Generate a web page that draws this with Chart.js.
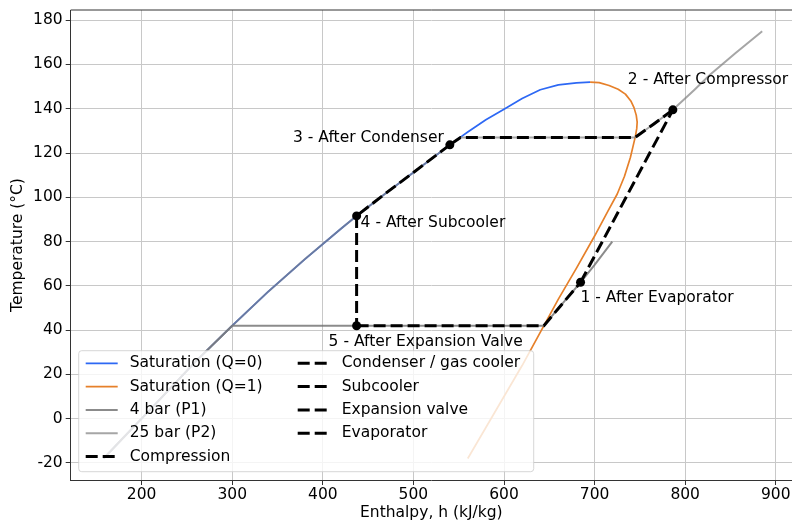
<!DOCTYPE html>
<html>
<head>
<meta charset="utf-8">
<script src="https://cdn.jsdelivr.net/npm/chart.js@4.4.1/dist/chart.umd.min.js"></script>
<style>
  html, body { margin: 0; padding: 0; background: #fff; overflow: hidden; }
  #wrap { width: 792px; height: 524px; }
</style>
</head>
<body>
<div id="wrap"><canvas id="chart" width="792" height="524"></canvas></div>
<script>
// axis ticks
const xTicks = [200, 300, 400, 500, 600, 700, 800, 900];
const yTicks = [-20, 0, 20, 40, 60, 80, 100, 120, 140, 160, 180];

// saturation dome
const liqH = [158, 180, 200, 230, 260, 300, 340, 380, 420, 437.3, 470, 500, 540.2, 552, 560, 580, 600, 620, 640, 660, 680, 695];
const liqT = [-18, -8.5, 0, 13, 26, 42, 57.5, 72, 85.8, 91.6, 102, 111.2, 123.7, 127.2, 129.5, 135, 139.8, 144.6, 148.6, 150.8, 151.7, 152];
const vapH = [560, 580, 600, 620, 640, 660, 680, 700, 715, 725, 733, 739.5, 743, 745, 746.5, 747, 746, 743.5, 740, 734, 726, 716, 705, 695];
const vapT = [-18, -4, 10, 24, 39, 54, 68, 82.5, 94, 101.5, 109.5, 118, 124, 127.5, 131, 134, 137, 140.5, 143.5, 146.6, 148.8, 150.5, 151.8, 152];

// isobars
const p1H = [158, 180, 200, 230, 260, 300, 644, 660, 684.5, 700, 719.5];
const p1T = [-18, -8.5, 0, 13, 26, 42, 42, 49.8, 61.6, 69.5, 80];
const p2H = [158, 180, 200, 230, 260, 300, 340, 380, 420, 437.3, 470, 500, 540.2, 552, 744.5, 765, 786.4, 810, 828, 855, 885];
const p2T = [-18, -8.5, 0, 13, 26, 42, 57.5, 72, 85.8, 91.6, 102, 111.2, 123.7, 127, 127, 133, 139.5, 148.5, 155.6, 165, 175];

// cycle processes
const compH = [684.5, 786.4];
const compT = [61.6, 139.5];
const condH = [786.4, 765, 744.5, 552, 540.2];
const condT = [139.5, 133, 127, 127, 123.7];
const subH = [540.2, 500, 470, 437.3];
const subT = [123.7, 111.2, 102, 91.6];
const expH = [437.3, 437.3];
const expT = [91.6, 42];
const evapH = [437.3, 644, 660, 684.5];
const evapT = [42, 42, 49.8, 61.6];

// state points
const stateH = [684.5, 786.4, 540.2, 437.3, 437.3];
const stateT = [61.6, 139.5, 123.7, 91.6, 42];
const stateNames = ['1 - After Evaporator', '2 - After Compressor', '3 - After Condenser', '4 - After Subcooler', '5 - After Expansion Valve'];

const FONT = 'DejaVu Sans';
const FS = 15.5;
const pts = (hs, ts) => hs.map((h, i) => ({ x: h, y: ts[i] }));

// label placement relative to each state point (px)
const labelPos = [
  { dx: 0, dy: 16, align: 'left' },
  { dx: -45, dy: -30, align: 'left' },
  { dx: -6, dy: -7, align: 'right' },
  { dx: 4, dy: 7, align: 'left' },
  { dx: -28, dy: 16, align: 'left' }
];

const solid = (label, hs, ts, color, width, order) => ({
  label, data: pts(hs, ts), showLine: true, pointRadius: 0,
  borderColor: color, backgroundColor: color, borderWidth: width,
  borderJoinStyle: 'round', order
});
const dashed = (label, hs, ts) => ({
  label, data: pts(hs, ts), showLine: true, pointRadius: 0,
  borderColor: '#000', backgroundColor: '#000', borderWidth: 3,
  borderDash: [12, 5], order: 3
});

const datasets = [
  solid('Saturation (Q=0)', liqH, liqT, '#2d68f4', 1.7, 10),
  solid('Saturation (Q=1)', vapH, vapT, '#e6802a', 1.7, 9),
  solid('4 bar (P1)', p1H, p1T, 'rgba(110,110,110,0.8)', 2, 8),
  solid('25 bar (P2)', p2H, p2T, 'rgba(128,128,128,0.7)', 2, 7),
  dashed('Compression', compH, compT),
  dashed('Condenser / gas cooler', condH, condT),
  dashed('Subcooler', subH, subT),
  dashed('Expansion valve', expH, expT),
  dashed('Evaporator', evapH, evapT),
  {
    label: '', data: pts(stateH, stateT), pointRadius: 4.5,
    backgroundColor: '#000', borderWidth: 0, order: 0
  }
];

const overlay = {
  id: 'overlay',
  afterDatasetsDraw(chart) {
    const { ctx, chartArea: a, scales: { x, y } } = chart;
    ctx.save();
    // top spine (the right one falls outside the picture)
    ctx.strokeStyle = '#333';
    ctx.lineWidth = 1;
    ctx.beginPath();
    ctx.moveTo(a.left, a.top);
    ctx.lineTo(a.right, a.top);
    ctx.stroke();

    // state annotations
    ctx.font = `${FS}px "${FONT}"`;
    ctx.fillStyle = '#000';
    ctx.textBaseline = 'middle';
    stateNames.forEach((name, i) => {
      const p = labelPos[i];
      ctx.textAlign = p.align;
      ctx.fillText(name, x.getPixelForValue(stateH[i]) + p.dx, y.getPixelForValue(stateT[i]) + p.dy);
    });

    // legend
    const lx = a.left + 8, ly = a.bottom - 129.3, lw = 455, lh = 121;
    ctx.beginPath();
    ctx.roundRect(lx, ly, lw, lh, 3);
    ctx.fillStyle = 'rgba(255,255,255,0.8)';
    ctx.fill();
    ctx.strokeStyle = 'rgba(204,204,204,0.8)';
    ctx.stroke();
    ctx.textAlign = 'left';
    chart.data.datasets.filter(d => d.label).forEach((d, i) => {
      const col = Math.floor(i / 5), row = i % 5;
      const hx = lx + (col ? 219 : 7);
      const cy = ly + 12.6 + row * 23.3;
      ctx.beginPath();
      ctx.setLineDash(d.borderDash || []);
      ctx.strokeStyle = d.borderColor;
      ctx.lineWidth = d.borderWidth;
      ctx.moveTo(hx, cy);
      ctx.lineTo(hx + 32, cy);
      ctx.stroke();
      ctx.setLineDash([]);
      ctx.fillStyle = '#000';
      ctx.fillText(d.label, hx + 44, cy);
    });
    ctx.restore();
  }
};

const axisFont = { family: FONT, size: FS };

new Chart(document.getElementById('chart'), {
  type: 'scatter',
  data: { datasets },
  options: {
    responsive: false,
    devicePixelRatio: 1,
    animation: false,
    events: [],
    layout: { autoPadding: false, padding: { left: 0, top: 10, right: 0, bottom: 0 } },
    plugins: { legend: { display: false }, tooltip: { enabled: false } },
    scales: {
      x: {
        type: 'linear', min: 121.7, max: 917.9,
        afterBuildTicks: s => { s.ticks = xTicks.map(v => ({ value: v })); },
        afterFit: s => { s.height = 44; s.paddingLeft = 0; s.paddingRight = 0; },
        grid: { color: '#c8c8c8', lineWidth: 1, tickColor: '#333', tickLength: 5 },
        border: { color: '#333', width: 1 },
        ticks: { color: '#000', font: axisFont, padding: 1, maxRotation: 0, autoSkip: false },
        title: { display: true, text: 'Enthalpy, h (kJ/kg)', color: '#000', font: axisFont, padding: { top: 0, bottom: 2 } }
      },
      y: {
        type: 'linear', min: -27.7, max: 184.6,
        afterBuildTicks: s => { s.ticks = yTicks.map(v => ({ value: v })); },
        afterFit: s => { s.width = 70.7; s.paddingTop = 0; s.paddingBottom = 0; },
        grid: { color: '#c8c8c8', lineWidth: 1, tickColor: '#333', tickLength: 5 },
        border: { color: '#333', width: 1 },
        ticks: { color: '#000', font: axisFont, padding: 3, autoSkip: false },
        title: { display: true, text: 'Temperature (°C)', color: '#000', font: axisFont, padding: { top: 9, bottom: 0 } }
      }
    }
  },
  plugins: [overlay]
});
</script>
</body>
</html>
